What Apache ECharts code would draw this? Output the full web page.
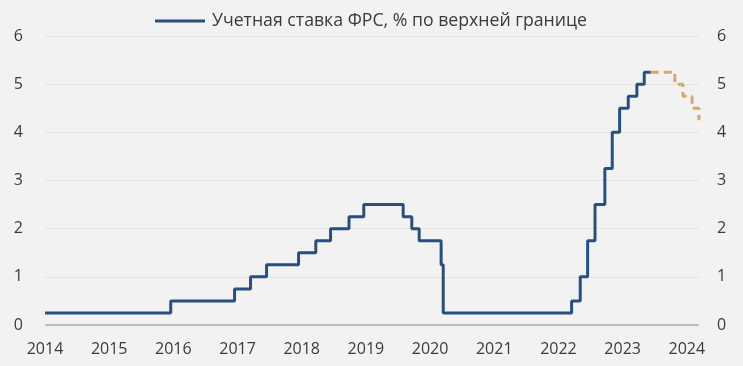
<!DOCTYPE html>
<html><head><meta charset="utf-8">
<script src="https://cdn.jsdelivr.net/npm/echarts@6/dist/echarts.min.js"></script>
<style>html,body{margin:0;padding:0;background:#f2f2f2}#c{width:743px;height:366px}</style>
</head><body><div id="c"></div>
<script>
// Fed funds rate, upper bound (%), value in effect from each date
const rateDates = ['2014-01-01','2015-12-17','2016-12-15','2017-03-16','2017-06-15','2017-12-14','2018-03-22','2018-06-14','2018-09-27','2018-12-20','2019-08-01','2019-09-19','2019-10-31','2020-03-04','2020-03-16','2022-03-17','2022-05-05','2022-06-16','2022-07-28','2022-09-22','2022-11-03','2022-12-15','2023-02-02','2023-03-23','2023-05-04','2023-06-10'];
const rateValues = [0.25,0.50,0.75,1.00,1.25,1.50,1.75,2.00,2.25,2.50,2.25,2.00,1.75,1.25,0.25,0.50,1.00,1.75,2.50,3.25,4.00,4.50,4.75,5.00,5.25,5.25];
// Forecast (dashed)
const fcDates = ['2023-06-10','2023-10-25','2023-12-10','2024-01-31','2024-03-10'];
const fcValues = [5.25,5.00,4.75,4.50,4.25];
const yearTicks = [2014,2015,2016,2017,2018,2019,2020,2021,2022,2023,2024];
const legendName = 'Учетная ставка ФРС, % по верхней границе';

function decYear(s){
  const d = new Date(s + 'T00:00:00Z');
  const y = d.getUTCFullYear();
  const s0 = Date.UTC(y,0,1), s1 = Date.UTC(y+1,0,1);
  return y + (d.getTime() - s0) / (s1 - s0);
}
const mainData = rateDates.map((d,i)=>[decYear(d), rateValues[i]]);
const fcData = fcDates.map((d,i)=>[decYear(d), fcValues[i]]);

const font = '"Open Sans", sans-serif';
const chart = echarts.init(document.getElementById('c'), null, {renderer:'canvas'});
chart.setOption({
  backgroundColor:'#f2f2f2',
  animation:false,
  grid:{left:45,right:44,top:36,bottom:41},
  legend:{
    data:[legendName], top:7, left:150,
    itemWidth:50, itemHeight:3, icon:'rect', itemGap:8,
    textStyle:{fontFamily:font,fontSize:17.7,color:'#3a3a3a',padding:[0,0,0,2]}
  },
  xAxis:{
    type:'value', min:2014, max:2024.19, interval:1,
    axisLine:{show:false}, axisTick:{show:false}, splitLine:{show:false},
    axisLabel:{fontFamily:font,fontSize:16,color:'#3a3a3a',margin:16,
      showMaxLabel:false,
      formatter:v=> yearTicks.includes(Math.round(v)) && Math.abs(v-Math.round(v))<1e-6 ? String(Math.round(v)) : ''}
  },
  yAxis:[{
    type:'value', min:0, max:6, interval:1, position:'left',
    axisLine:{show:false}, axisTick:{show:false},
    splitLine:{lineStyle:{color:'#e3e3e3',width:1}},
    axisLabel:{fontFamily:font,fontSize:16,color:'#3a3a3a',margin:22}
  },{
    type:'value', min:0, max:6, interval:1, position:'right',
    axisLine:{show:false}, axisTick:{show:false}, splitLine:{show:false},
    axisLabel:{fontFamily:font,fontSize:16,color:'#3a3a3a',margin:18}
  }],
  series:[{
    name:legendName, type:'line', step:'end', data:mainData, showSymbol:false,
    lineStyle:{color:'#2a4f7b',width:3}, itemStyle:{color:'#2a4f7b'}, z:3,
    markLine:{silent:true,symbol:'none',label:{show:false},
      lineStyle:{color:'#bdbdbd',width:2,type:'solid'},data:[{yAxis:0}]}
  },{
    name:'Прогноз', type:'line', step:'end', data:fcData, showSymbol:false,
    lineStyle:{color:'#cfa876',width:3,type:[8,5]}, itemStyle:{color:'#cfa876'}, z:2
  }]
});
</script></body></html>
